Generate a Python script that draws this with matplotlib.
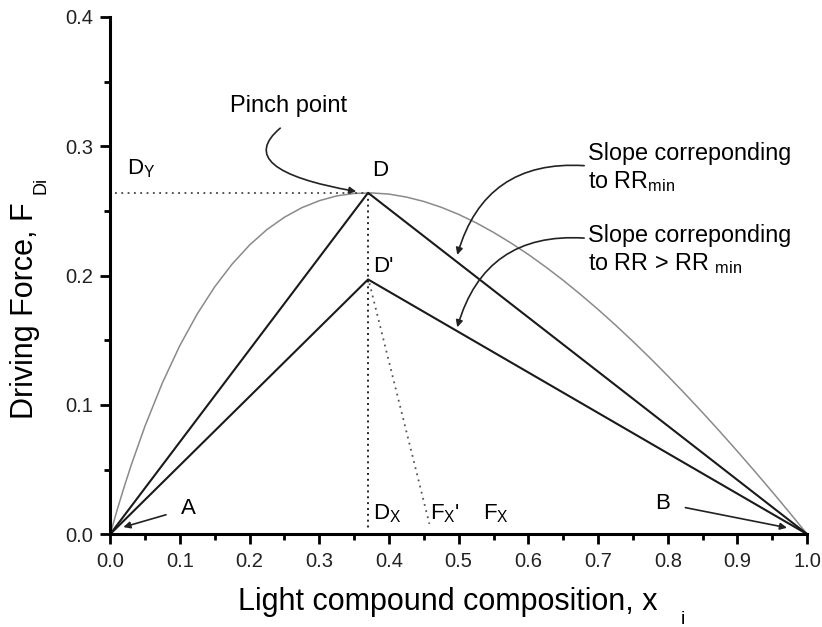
import matplotlib
matplotlib.use("Agg")
import matplotlib.pyplot as plt
from matplotlib.ticker import MultipleLocator

plt.rcParams['font.family'] = ['Liberation Sans', 'DejaVu Sans']
plt.rcParams['mathtext.fontset'] = 'custom'
plt.rcParams['mathtext.rm'] = 'Liberation Sans'
plt.rcParams['mathtext.it'] = 'Liberation Sans'

# driving force curve
curve_x = [0.0, 0.01, 0.02, 0.03, 0.05, 0.075, 0.10, 0.125, 0.15, 0.175, 0.20, 0.225,
           0.25, 0.275, 0.30, 0.325, 0.35, 0.375, 0.40, 0.425, 0.45, 0.475, 0.50,
           0.525, 0.55, 0.575, 0.60, 0.625, 0.65, 0.675, 0.70, 0.725, 0.75, 0.775,
           0.80, 0.825, 0.85, 0.875, 0.90, 0.925, 0.95, 0.975, 1.0]
curve_y = [0.0, 0.0187, 0.0364, 0.0531, 0.0836, 0.1171, 0.1459, 0.1704, 0.1913, 0.2089,
           0.2236, 0.2356, 0.2451, 0.2525, 0.2579, 0.2616, 0.2635, 0.2639, 0.2630,
           0.2607, 0.2573, 0.2528, 0.2473, 0.2408, 0.2334, 0.2252, 0.2163, 0.2066,
           0.1963, 0.1853, 0.1738, 0.1617, 0.1491, 0.1360, 0.1224, 0.1084, 0.0940,
           0.0792, 0.0640, 0.0485, 0.0327, 0.0165, 0.0]

# operating lines A-D-B and A-D'-B
line_min_x = [0.0, 0.37, 1.0]
line_min_y = [0.0, 0.264, 0.0]
line_rr_x = [0.0, 0.37, 1.0]
line_rr_y = [0.0, 0.197, 0.0]

# dotted construction lines
dy_x, dy_y = [0.007, 0.37], [0.264, 0.264]
dx_x, dx_y = [0.37, 0.37], [0.264, 0.004]
fx_x, fx_y = [0.372, 0.458], [0.194, 0.008]

W, H = 822, 627
fig = plt.figure(figsize=(W / 100, H / 100), dpi=100)
ax = fig.add_axes([0.134, 0.148, 0.848, 0.825])

ax.plot(curve_x, curve_y, color="#8a8a8a", lw=1.1, clip_on=False)
ax.plot(line_min_x, line_min_y, color="#1a1a1a", lw=1.5, clip_on=False)
ax.plot(line_rr_x, line_rr_y, color="#1a1a1a", lw=1.5, clip_on=False)
ax.plot(dy_x, dy_y, color="#444444", lw=1.3, ls=(0, (1, 2.5)))
ax.plot(dx_x, dx_y, color="#222222", lw=1.4, ls=(0, (1, 2)))
ax.plot(fx_x, fx_y, color="#555555", lw=1.3, ls=(0, (1, 2.5)))

ax.set_xlim(0, 1.0)
ax.set_ylim(0, 0.4)
ax.spines["top"].set_visible(False)
ax.spines["right"].set_visible(False)
ax.spines["left"].set_linewidth(2.2)
ax.spines["bottom"].set_linewidth(2.2)
ax.xaxis.set_major_locator(MultipleLocator(0.1))
ax.xaxis.set_minor_locator(MultipleLocator(0.05))
ax.yaxis.set_major_locator(MultipleLocator(0.1))
ax.yaxis.set_minor_locator(MultipleLocator(0.05))
ax.tick_params(which="major", length=7, width=2, direction="out", labelsize=14.5,
               labelcolor="#222222")
ax.tick_params(axis="x", which="major", pad=6)
ax.tick_params(axis="y", which="major", pad=5)
ax.tick_params(which="minor", length=4, width=2, direction="out")
ax.xaxis.set_major_formatter(plt.FuncFormatter(lambda v, p: f"{v:.1f}"))
ax.yaxis.set_major_formatter(plt.FuncFormatter(lambda v, p: f"{v:.1f}"))

# axis titles, with the subscripts set well apart like in the original
fig.text(448 / W, 1 - 610 / H, "Light compound composition, x", fontsize=22,
         ha="center", va="baseline")
fig.text(683 / W, 1 - 620 / H, "i", fontsize=14, ha="center", va="center")
fig.text(25 / W, 1 - 311 / H, "Driving Force, F", fontsize=22, rotation=90,
         ha="center", va="center")
fig.text(41 / W, 1 - 185 / H, "Di", fontsize=13, rotation=90, ha="center", va="center")

tfs = 16
ax.text(0.387, 0.281, "D", fontsize=tfs, ha="center", va="center")
ax.text(0.392, 0.207, "D'", fontsize=tfs, ha="center", va="center")
ax.text(0.045, 0.283, r"D$_{\mathrm{Y}}$", fontsize=tfs, ha="center", va="center")
ax.text(0.398, 0.016, r"D$_{\mathrm{X}}$", fontsize=tfs, ha="center", va="center")
ax.text(0.480, 0.016, r"F$_{\mathrm{X}}$'", fontsize=tfs, ha="center", va="center")
ax.text(0.554, 0.016, r"F$_{\mathrm{X}}$", fontsize=tfs, ha="center", va="center")
ax.text(0.256, 0.331, "Pinch point", fontsize=17, ha="center", va="center")

arrow = dict(arrowstyle="-|>", color="#222222", lw=1.2, mutation_scale=10, shrinkA=0, shrinkB=0)

ax.annotate("", xy=(0.353, 0.265), xytext=(0.244, 0.314),
            arrowprops=dict(arrow, connectionstyle="angle3,angleA=-140,angleB=-10"))
ax.annotate("A", xy=(0.019, 0.0055), xytext=(0.112, 0.020), fontsize=tfs,
            ha="center", va="center",
            arrowprops=dict(arrow, shrinkA=9))
ax.annotate("B", xy=(0.971, 0.005), xytext=(0.793, 0.024), fontsize=tfs,
            ha="center", va="center",
            arrowprops=dict(arrow, shrinkA=9))

ax.text(0.686, 0.283, "Slope correponding\nto RR$_{\\mathrm{min}}$", fontsize=16.8,
        ha="left", va="center", linespacing=1.2)
ax.text(0.686, 0.220, "Slope correponding\nto RR > RR $_{\\mathrm{min}}$", fontsize=16.8,
        ha="left", va="center", linespacing=1.2)
ax.annotate("", xy=(0.498, 0.216), xytext=(0.680, 0.285),
            arrowprops=dict(arrow, connectionstyle="arc3,rad=0.4"))
ax.annotate("", xy=(0.498, 0.160), xytext=(0.680, 0.229),
            arrowprops=dict(arrow, connectionstyle="arc3,rad=0.4"))

fig.savefig("out.png", dpi=100)
